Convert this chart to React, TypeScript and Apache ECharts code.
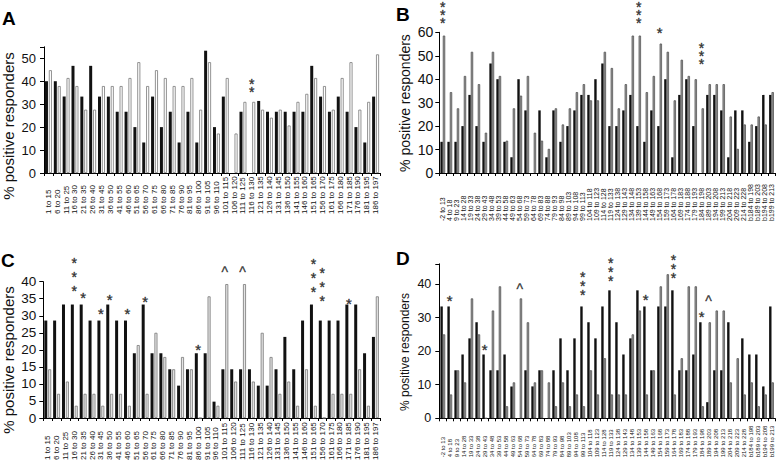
import React, { useEffect, useRef } from "react";
import * as echarts from "echarts";

const catsA = ["1 to 15","6 to 20","11 to 25","16 to 30","21 to 35","26 to 40","31 to 45","36 to 50","41 to 55","46 to 60","51 to 65","56 to 70","61 to 75","66 to 80","71 to 85","76 to 90","81 to 95","86 to 100","91 to 105","96 to 110","101 to 115","106 to 120","111 to 125","116 to 130","121 to 135","126 to 140","131 to 145","136 to 150","141 to 155","146 to 160","151 to 165","156 to 170","161 to 175","166 to 180","171 to 185","176 to 190","181 to 195","186 to 197"];

const catsB = ["-2 to 13","4 to 18","9 to 23","14 to 28","19 to 33","24 to 38","29 to 43","34 to 48","39 to 53","44 to 58","49 to 63","54 to 68","59 to 73","64 to 78","69 to 83","74 to 88","79 to 93","84 to 98","89 to 103","94 to 108","99 to 113","104 to 118","109 to 123","114 to 128","119 to 133","124 to 138","129 to 143","134 to 148","139 to 153","144 to 158","149 to 163","154 to 168","159 to 173","164 to 178","169 to 183","174 to 188","179 to 193","184 to 198","189 to 203","194 to 208","199 to 213","204 to 218","209 to 223","214 to 228","b184 to 198","b189 to 203","b194 to 208","b199 to 213"];

const aBlack = [40,40,33.3,46.7,33.3,46.7,33.3,33.3,26.7,26.7,20,13.3,33.3,20,26.7,13.3,26.7,13.3,53.3,20,33.3,0,26.7,0,31.4,26.7,26.7,26.7,26.7,26.7,46.7,33.3,26.7,33.3,26.7,20,13.3,33.3];
const aWhite = [44.8,37.9,41.4,37.9,27.6,27.6,37.9,37.9,37.9,41.4,48.3,37.9,44.8,41.4,37.9,37.9,41.4,27.6,48.3,17.2,41.4,17.2,31.0,31.0,27.6,24.1,27.6,20.7,31.0,34.5,41.4,37.9,27.6,41.4,48.3,27.6,31.0,51.7];

const bBlack = [13.3,13.3,13.3,20,33.3,20,13.3,46.7,40,13.3,6.7,40,26.7,0,26.7,6.7,26.7,13.3,20,26.7,33.3,33.3,40,46.7,20,20,26.7,33.3,20,13.3,26.7,20,40,6.7,33.3,40,20,0,33.3,33.3,26.7,6.7,26.7,26.7,13.3,20,33.3,33.3];
const bGrey = [58.6,34.5,27.6,41.4,51.7,37.9,17.2,51.7,41.4,13.8,27.6,33.0,41.4,17.2,13.8,10.3,27.6,20.7,27.6,34.5,37.9,31.0,31.0,51.7,44.8,27.6,37.9,58.6,58.6,34.5,41.4,55.2,51.7,31.0,48.3,41.4,40.0,27.6,37.9,37.9,37.9,24.1,10.3,20.7,20.7,24.1,20.7,34.5];

const cBlack = [28.6,28.6,33.3,33.3,33.3,28.6,28.6,33.3,28.6,28.6,19.0,33.3,19.0,19.0,14.3,9.5,14.3,19.0,19.0,4.8,14.3,14.3,14.3,14.3,9.5,9.5,14.3,23.8,14.3,28.6,33.3,28.6,28.6,28.6,33.3,33.3,19.0,23.8];
const cWhite = [14.3,7.1,10.7,3.6,7.1,7.1,3.6,7.1,7.1,3.6,21.4,7.1,25.0,17.9,14.3,17.9,14.3,0,35.7,3.6,39.3,10.7,39.3,10.7,25.0,17.9,7.1,10.7,3.6,14.3,3.6,0,7.1,7.1,7.1,14.3,3.6,35.7];

const dBlack = [33.3,33.3,14.3,19.0,23.8,28.6,19.0,14.3,14.3,19.0,9.5,0,14.3,9.5,14.3,0,14.3,23.8,14.3,23.8,33.3,28.6,23.8,33.3,38.1,28.6,19.0,23.8,38.1,33.3,14.3,33.3,33.3,38.1,14.3,14.3,19.0,28.6,4.8,14.3,14.3,28.6,0,23.8,19.0,19.0,9.5,33.3];
const dGrey = [25.0,7.1,14.3,10.7,35.7,25.0,0,32.1,39.3,3.6,10.7,35.7,28.6,10.7,14.3,10.7,3.6,10.7,3.6,7.1,3.6,14.3,7.1,17.9,7.1,7.1,7.1,25.0,32.1,7.1,14.3,39.3,42.9,7.1,17.9,39.3,39.3,3.6,28.6,32.1,32.1,10.7,17.9,7.1,10.7,3.6,7.1,10.7];

// significance marks: [category index, value position, text]
const aMarks: [number, number, string][] = [[23, 37.2, "*\n*"]];
const bMarks: [number, number, string][] = [[0, 67.3, "*\n*\n*"], [28, 67.3, "*\n*\n*"], [31, 60, "*"], [37, 49.9, "*\n*\n*"]];
const cMarks: [number, number, string][] = [[3, 41.5, "*\n*\n*"], [4, 35.5, "*"], [6, 30.6, "*"], [7, 34.7, "*"], [9, 30.6, "*"], [11, 34.1, "*"], [17, 20.1, "*"], [20, 42.7, "^"], [22, 42.7, "^"], [30, 41.1, "*\n*\n*"], [31, 38.4, "*\n*\n*"], [34, 33.7, "*"]];
const dMarks: [number, number, string][] = [[1, 35.2, "*"], [6, 20.5, "*"], [11, 38.5, "^"], [20, 39.5, "*\n*\n*"], [24, 43.6, "*\n*\n*"], [29, 35.4, "*"], [33, 44.5, "*\n*\n*"], [37, 30.3, "*"], [38, 34.8, "^"]];

const FONT = "'Liberation Sans', Arial, sans-serif";

export default function App() {
  const ref = useRef<HTMLDivElement>(null);
  useEffect(() => {
    if (!ref.current) return;
    const chart = echarts.init(ref.current, undefined, { renderer: "svg" });

    const grids = [
      { left: 44, top: 46.8, width: 336, height: 126.2 },
      { left: 439.3, top: 32.3, width: 335.7, height: 140.7 },
      { left: 43.3, top: 281.7, width: 336.5, height: 136.6 },
      { left: 439.3, top: 263.8, width: 335.7, height: 154.5 },
    ];

    const xAx = (cats: string[], gi: number, fs: number, margin: number) => ({
      type: "category",
      gridIndex: gi,
      data: cats,
      axisLine: { lineStyle: { color: "#000", width: 1 } },
      axisTick: { show: true, length: 3, lineStyle: { color: "#000" } },
      axisLabel: {
        interval: 0,
        rotate: 90,
        fontSize: fs,
        align: "left",
        margin,
        color: "#111",
        fontFamily: FONT,
        hideOverlap: false,
      },
    });
    const yAx = (gi: number, max: number, interval: number, fs: number, margin: number) => ({
      type: "value",
      gridIndex: gi,
      min: 0,
      max,
      interval,
      axisLine: { show: true, lineStyle: { color: "#000", width: 1 } },
      axisTick: { show: true, length: 4, lineStyle: { color: "#000" } },
      splitLine: { show: false },
      axisLabel: {
        fontSize: fs,
        margin,
        color: "#111",
        fontFamily: FONT,
        formatter: (v: number) => (v % interval === 0 ? String(v) : ""),
      },
    });

    const bar = (gi: number, data: number[], color: string, border: string, bw: number, gap: string) => ({
      type: "bar",
      xAxisIndex: gi,
      yAxisIndex: gi,
      data,
      barWidth: bw,
      barGap: gap,
      itemStyle: { color, borderColor: border, borderWidth: border === "none" ? 0 : 0.8 },
      silent: true,
    });

    const marks = (gi: number, cats: string[], m: [number, number, string][], lh: number) => ({
      type: "scatter",
      xAxisIndex: gi,
      yAxisIndex: gi,
      symbolSize: 1,
      clip: false,
      silent: true,
      z: 5,
      color: "#111",
      itemStyle: { color: "rgba(0,0,0,0)" },
      label: {
        show: true,
        position: "inside",
        fontSize: 14,
        lineHeight: lh,
        color: "#111",
        fontFamily: FONT,
        textBorderColor: "#111",
        textBorderWidth: 0.4,
      },
      data: m.map((d) => ({
        value: [cats[d[0]], d[1]],
        label: { formatter: d[2], fontSize: d[2].length > 1 ? 14 : d[2] === "^" ? 14 : 15 },
      })),
    });

    const yName = (x: number, y: number, fs: number) => ({
      type: "text",
      x,
      y,
      rotation: Math.PI / 2,
      style: { text: "% positive responders", fontSize: fs, fontFamily: FONT, fill: "#111", align: "center", verticalAlign: "middle" },
    });
    const letter = (t: string, x: number, y: number) => ({
      type: "text",
      x,
      y,
      style: { text: t, fontSize: 19, fontWeight: "bold", fontFamily: FONT, fill: "#000", align: "left", verticalAlign: "top" },
    });

    chart.setOption({
      animation: false,
      backgroundColor: "#fff",
      grid: grids,
      xAxis: [xAx(catsA, 0, 8, 41), xAx(catsB, 1, 7, 48), xAx(catsA, 2, 8, 42), xAx(catsB, 3, 6, 39)],
      yAxis: [yAx(0, 55, 10, 13, 8), yAx(1, 60, 10, 14, 6), yAx(2, 40, 5, 13.5, 7), yAx(3, 46, 10, 12.5, 8)],
      series: [
        bar(0, aBlack, "#111", "none", 3, "30%"),
        bar(0, aWhite, "#ffffff", "#777", 3, "30%"),
        bar(1, bBlack, "#111", "none", 2.4, "0%"),
        bar(1, bGrey, "#999999", "#555", 2.4, "0%"),
        bar(2, cBlack, "#111", "none", 3, "30%"),
        bar(2, cWhite, "#e4e4e4", "#777", 3, "30%"),
        bar(3, dBlack, "#111", "none", 2.4, "0%"),
        bar(3, dGrey, "#999999", "#555", 2.4, "0%"),
        marks(0, catsA, aMarks, 8),
        marks(1, catsB, bMarks, 8),
        marks(2, catsA, cMarks, 14),
        marks(3, catsB, dMarks, 9),
      ],
      graphic: [
        letter("A", 2, 9),
        letter("B", 396, 5),
        letter("C", 1, 251),
        letter("D", 396, 249),
        yName(8.5, 126, 15),
        yName(405, 103, 14),
        yName(8.5, 360, 15),
        yName(405, 352, 12),
      ],
    });
    return () => chart.dispose();
  }, []);
  return <div ref={ref} style={{ position: "absolute", left: 0, top: 0, width: 778, height: 463, background: "#fff" }} />;
}
